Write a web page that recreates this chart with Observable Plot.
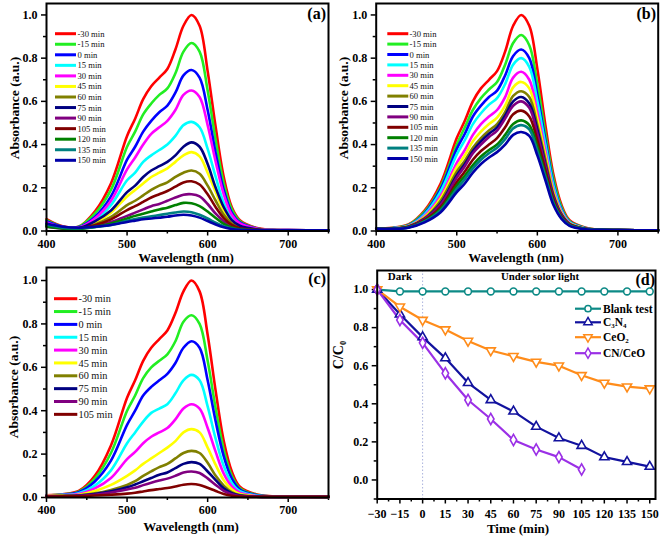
<!DOCTYPE html>
<html>
<head>
<meta charset="utf-8">
<script src="https://cdn.jsdelivr.net/npm/d3@7"></script>
<script src="https://cdn.jsdelivr.net/npm/@observablehq/plot@0.6"></script>
<style>
  html, body { margin: 0; padding: 0; background: white; }
  #wrap { position: relative; width: 661px; height: 540px; overflow: hidden; background: white; }
  #wrap svg { position: absolute; }
</style>
</head>
<body>
<div id="wrap"></div>
<script>
// ---------- DATA ----------
const wl = [400,420,440,460,480,500,510,520,530,540,550,560,570,580,590,600,610,620,630,640,660,680,700,750];

const timesA = ["-30 min","-15 min","0 min","15 min","30 min","45 min","60 min","75 min","90 min","105 min","120 min","135 min","150 min"];
const timesC = ["-30 min","-15 min","0 min","15 min","30 min","45 min","60 min","75 min","90 min","105 min"];
const specColors = ["#ff0000","#22ee22","#0000ff","#00ffff","#ff00ff","#ffff00","#808000","#000080","#800080","#800000","#008000","#008080","#0000a8"];

// Panel (a)
const specA = [
  [.055,.022,.02,.09,.22,.44,.52,.61,.67,.71,.75,.84,.95,1.0,.95,.74,.48,.25,.11,.05,.015,.006,.004,.003],
  [.05,.02,.02,.08,.19,.39,.46,.54,.59,.63,.66,.73,.83,.87,.83,.65,.42,.22,.10,.045,.013,.005,.004,.003],
  [.045,.02,.018,.065,.16,.33,.39,.46,.51,.55,.58,.64,.72,.745,.71,.56,.36,.19,.085,.04,.012,.005,.004,.003],
  [.035,.016,.015,.05,.12,.235,.27,.32,.35,.375,.40,.44,.49,.505,.48,.38,.25,.13,.06,.028,.009,.004,.003,.003],
  [.04,.018,.016,.058,.14,.285,.34,.40,.45,.48,.51,.56,.63,.65,.62,.49,.32,.17,.075,.035,.011,.005,.004,.003],
  [.03,.015,.013,.038,.085,.16,.19,.22,.25,.27,.29,.32,.35,.365,.345,.27,.18,.095,.045,.02,.007,.004,.003,.003],
  [.025,.014,.012,.03,.065,.12,.14,.165,.19,.21,.225,.25,.27,.28,.265,.21,.14,.075,.035,.016,.006,.003,.003,.003],
  [.03,.015,.014,.045,.095,.18,.21,.25,.28,.30,.32,.35,.39,.41,.39,.31,.20,.11,.05,.024,.008,.004,.003,.003],
  [.02,.012,.011,.022,.042,.07,.085,.10,.115,.125,.14,.155,.168,.17,.16,.125,.08,.045,.02,.01,.004,.003,.003,.003],
  [.025,.013,.012,.027,.054,.097,.115,.135,.155,.17,.185,.205,.225,.23,.215,.17,.11,.06,.028,.013,.005,.003,.003,.003],
  [.02,.012,.01,.019,.035,.058,.07,.08,.09,.10,.108,.12,.13,.128,.115,.09,.06,.033,.016,.008,.004,.003,.003,.003],
  [.03,.015,.012,.018,.028,.047,.055,.062,.068,.074,.08,.086,.09,.087,.075,.058,.038,.022,.011,.006,.003,.003,.003,.003],
  [.035,.02,.015,.02,.028,.042,.048,.054,.058,.062,.066,.072,.075,.072,.062,.046,.03,.017,.009,.005,.003,.003,.003,.003]
];

// Panel (b)
const specB = [
  [.01,.015,.03,.095,.22,.43,.51,.60,.66,.70,.74,.83,.95,1.0,.95,.75,.49,.26,.12,.05,.015,.006,.004,.003],
  [.01,.014,.028,.088,.205,.40,.48,.56,.615,.655,.69,.77,.87,.907,.86,.68,.45,.24,.11,.045,.014,.005,.004,.003],
  [.01,.013,.026,.082,.195,.38,.45,.53,.58,.62,.65,.72,.81,.84,.80,.63,.42,.22,.10,.042,.013,.005,.004,.003],
  [.01,.013,.025,.077,.183,.355,.42,.495,.545,.585,.615,.68,.77,.80,.76,.60,.40,.21,.095,.04,.012,.005,.004,.003],
  [.01,.012,.023,.07,.163,.315,.375,.445,.495,.53,.56,.62,.71,.737,.70,.55,.37,.19,.088,.037,.011,.005,.004,.003],
  [.01,.012,.022,.065,.152,.295,.35,.415,.46,.495,.525,.58,.665,.69,.66,.52,.35,.18,.083,.035,.011,.005,.004,.003],
  [.01,.012,.021,.06,.14,.275,.325,.385,.43,.465,.495,.55,.625,.647,.62,.49,.33,.17,.078,.033,.010,.005,.004,.003],
  [.01,.011,.02,.056,.128,.258,.31,.37,.415,.45,.48,.535,.60,.62,.59,.47,.31,.16,.075,.032,.010,.005,.004,.003],
  [.01,.011,.019,.054,.122,.248,.30,.36,.40,.435,.465,.52,.58,.60,.57,.45,.30,.155,.072,.031,.010,.005,.004,.003],
  [.01,.011,.018,.05,.11,.226,.275,.33,.37,.40,.43,.48,.54,.557,.53,.42,.28,.145,.067,.029,.009,.005,.004,.003],
  [.01,.01,.017,.046,.102,.21,.255,.305,.345,.375,.40,.445,.495,.512,.49,.39,.26,.135,.062,.027,.009,.005,.004,.003],
  [.01,.01,.016,.044,.095,.195,.24,.29,.33,.36,.385,.425,.475,.49,.47,.37,.25,.13,.06,.026,.009,.005,.004,.003],
  [.01,.01,.015,.04,.087,.18,.22,.27,.31,.34,.365,.40,.445,.458,.44,.35,.235,.12,.056,.024,.008,.005,.004,.003]
];

// Panel (c)
const specC = [
  [.01,.015,.03,.10,.24,.46,.54,.63,.69,.73,.77,.85,.95,1.0,.95,.75,.49,.26,.12,.05,.015,.006,.004,.003],
  [.01,.014,.027,.087,.205,.40,.47,.55,.60,.63,.66,.72,.81,.84,.80,.63,.41,.22,.10,.043,.013,.005,.004,.003],
  [.01,.013,.024,.074,.17,.335,.40,.47,.51,.54,.57,.62,.69,.72,.69,.54,.35,.19,.087,.037,.011,.005,.004,.003],
  [.01,.012,.02,.055,.125,.25,.30,.35,.39,.41,.43,.48,.54,.565,.54,.42,.27,.145,.067,.029,.009,.005,.004,.003],
  [.01,.011,.016,.042,.09,.177,.21,.25,.28,.30,.32,.36,.41,.43,.41,.32,.21,.11,.051,.022,.007,.004,.003,.003],
  [.008,.01,.013,.03,.058,.10,.125,.155,.18,.205,.23,.26,.30,.315,.30,.23,.15,.08,.037,.016,.006,.004,.003,.003],
  [.006,.008,.01,.019,.035,.058,.075,.10,.12,.14,.155,.18,.205,.215,.205,.16,.10,.055,.025,.011,.005,.003,.003,.003],
  [.005,.007,.009,.016,.029,.047,.06,.075,.09,.105,.115,.135,.155,.163,.155,.12,.08,.042,.02,.009,.004,.003,.003,.003],
  [.005,.006,.008,.013,.023,.037,.045,.057,.068,.078,.087,.10,.115,.12,.113,.088,.058,.031,.015,.007,.004,.003,.003,.003],
  [.004,.005,.006,.009,.013,.018,.022,.028,.034,.039,.044,.051,.059,.062,.058,.045,.03,.016,.008,.004,.003,.003,.003,.003]
];

// Panel (d)
const timeD = [-30,-15,0,15,30,45,60,75,90,105,120,135,150];
const seriesD = ["Blank test","C\u2083N\u2084","CeO\u2082","CN/CeO"];
const colorsD = ["#0d8a86","#12129e","#ff8c1a","#9b30e6"];
const blankD = [1.0,0.99,0.99,0.99,0.99,0.99,0.99,0.99,0.99,0.99,0.99,0.99,0.99];
const c3n4D  = [1.0,0.87,0.75,0.64,0.51,0.42,0.36,0.28,0.22,0.18,0.12,0.095,0.07];
const ceo2D  = [1.0,0.91,0.84,0.79,0.73,0.68,0.65,0.62,0.60,0.55,0.51,0.49,0.48];
const cnceoD = [1.0,0.84,0.72,0.56,0.42,0.32,0.21,0.16,0.12,0.055];

// ---------- HELPERS ----------
const FONT = "'Liberation Serif', 'Times New Roman', serif";
const wrap = document.getElementById("wrap");

function place(svg, left, top) {
  svg.style.left = left + "px";
  svg.style.top = top + "px";
  wrap.appendChild(svg);
  return d3.select(svg);
}

function addText(sel, x, y, txt, opts = {}) {
  const t = sel.append("text")
    .attr("x", x).attr("y", y)
    .attr("text-anchor", opts.anchor || "middle")
    .attr("font-family", FONT)
    .attr("font-size", opts.size || 13)
    .attr("font-weight", opts.weight || "bold")
    .attr("fill", "black")
    .text(txt);
  if (opts.rotate) t.attr("transform", `rotate(${opts.rotate},${x},${y})`);
  return t;
}

function specLegend(sel, names, colors, o) {
  const g = sel.append("g");
  names.forEach((n, i) => {
    const y = o.y0 + i * o.dy;
    g.append("line").attr("x1", o.x0).attr("x2", o.x1).attr("y1", y).attr("y2", y)
      .attr("stroke", colors[i]).attr("stroke-width", 3);
    g.append("text").attr("x", o.tx).attr("y", y).attr("dy", "0.35em")
      .attr("text-anchor", "start")
      .attr("font-family", FONT).attr("font-size", o.fs).attr("font-weight", "normal")
      .attr("fill", "#111").text(n);
  });
}

function specPlot(spec, names, o) {
  const data = spec.flatMap((vals, i) => vals.map((v, j) => ({w: wl[j], a: v, t: names[i]})));
  return Plot.plot({
    width: o.width, height: o.height,
    marginLeft: o.ml, marginRight: o.mr, marginTop: o.mt, marginBottom: o.mb,
    x: {domain: [400, 750]},
    y: {domain: [0, o.ymax]},
    color: {domain: names, range: specColors.slice(0, names.length)},
    style: {fontFamily: FONT, fontSize: "12px", fontWeight: "bold", background: "white", color: "black", overflow: "visible"},
    marks: [
      Plot.axisX({ticks: [400, 500, 600, 700], tickSize: 5, tickPadding: 3, strokeWidth: 1.5, label: null}),
      Plot.axisX({ticks: [450, 550, 650, 750], tickSize: 3, text: null, strokeWidth: 1.5, label: null}),
      Plot.axisY({ticks: [0, .2, .4, .6, .8, 1], tickFormat: ".1f", tickSize: 5, tickPadding: 4, strokeWidth: 1.5, label: null}),
      Plot.axisY({ticks: [.1, .3, .5, .7, .9], tickSize: 3, text: null, strokeWidth: 1.5, label: null}),
      Plot.line(data, {x: "w", y: "a", z: "t", stroke: "t", strokeWidth: 2.6, curve: "catmull-rom"}),
      Plot.frame({stroke: "black", strokeWidth: 2})
    ]
  });
}

// ---------- PANEL (a) ----------
{
  const svg = specPlot(specA, timesA, {width: 330, height: 265, ml: 46, mr: 2, mt: 3, mb: 34.5, ymax: 1.053});
  const s = place(svg, 0, 0);
  specLegend(s, timesA, specColors, {x0: 55, x1: 76, tx: 77.5, y0: 33.7, dy: 10.55, fs: 8.6});
  addText(s, 186, 262, "Wavelength (nm)", {size: 13});
  addText(s, 18.5, 108, "Absorbance (a.u.)", {size: 13.5, rotate: -90});
  addText(s, 326, 19, "(a)", {size: 16, anchor: "end"});
}

// ---------- PANEL (b) ----------
{
  const svg = specPlot(specB, timesA, {width: 331, height: 265, ml: 45.7, mr: 3.3, mt: 3, mb: 34.5, ymax: 1.053});
  const s = place(svg, 330, 0);
  specLegend(s, timesA, specColors, {x0: 57.3, x1: 78.3, tx: 79.5, y0: 33.7, dy: 10.4, fs: 8.6});
  addText(s, 186, 262, "Wavelength (nm)", {size: 13});
  addText(s, 17.5, 108, "Absorbance (a.u.)", {size: 13.5, rotate: -90});
  addText(s, 326, 19, "(b)", {size: 16, anchor: "end"});
}

// ---------- PANEL (c) ----------
{
  const svg = specPlot(specC, timesC, {width: 330, height: 275, ml: 46, mr: 2, mt: 2, mb: 43, ymax: 1.06});
  const s = place(svg, 0, 265);
  specLegend(s, timesC, specColors, {x0: 54, x1: 77.3, tx: 78.5, y0: 33.7, dy: 12.85, fs: 10.3});
  addText(s, 191, 266, "Wavelength (nm)", {size: 13});
  addText(s, 18, 122, "Absorbance (a.u.)", {size: 13.5, rotate: -90});
  addText(s, 326, 19, "(c)", {size: 16, anchor: "end"});
}

// ---------- PANEL (d) ----------
{
  const all = [
    ...blankD.map((v, i) => ({x: timeD[i], y: v, s: seriesD[0]})),
    ...c3n4D.map((v, i) => ({x: timeD[i], y: v, s: seriesD[1]})),
    ...ceo2D.map((v, i) => ({x: timeD[i], y: v, s: seriesD[2]})),
    ...cnceoD.map((v, i) => ({x: timeD[i], y: v, s: seriesD[3]}))
  ];
  const sym = {"Blank test": ["circle", 0], [seriesD[1]]: ["triangle", 0], [seriesD[2]]: ["triangle", 180], "CN/CeO": ["diamond", 0]};
  const dotMarks = seriesD.map((name, k) => Plot.dot(all.filter(d => d.s === name), {
    x: "x", y: "y", symbol: sym[name][0], rotate: sym[name][1], r: 3.4,
    stroke: colorsD[k], fill: "white", strokeWidth: 1.6
  }));
  const svg = Plot.plot({
    width: 331, height: 275,
    marginLeft: 46.7, marginRight: 6, marginTop: 5, marginBottom: 41.5,
    x: {domain: [-30, 153.8]},
    y: {domain: [-0.1, 1.1]},
    color: {domain: seriesD, range: colorsD},
    style: {fontFamily: FONT, fontSize: "12px", fontWeight: "bold", background: "white", color: "black", overflow: "visible"},
    marks: [
      Plot.ruleX([0], {stroke: "#aab2dd", strokeWidth: 1, strokeDasharray: "1.5,2"}),
      Plot.axisX({ticks: timeD, tickSize: 5, tickPadding: 5, strokeWidth: 1.5, label: null}),
      Plot.axisX({ticks: timeD.slice(0, -1).map(t => t + 7.5), tickSize: 3, text: null, strokeWidth: 1.5, label: null}),
      Plot.axisY({ticks: [0, .2, .4, .6, .8, 1], tickFormat: ".1f", tickSize: 5, tickPadding: 4, strokeWidth: 1.5, label: null}),
      Plot.axisY({ticks: [-.1, .1, .3, .5, .7, .9], tickSize: 3, text: null, strokeWidth: 1.5, label: null}),
      Plot.line(all, {x: "x", y: "y", z: "s", stroke: "s", strokeWidth: 2.2}),
      ...dotMarks,
      Plot.frame({stroke: "black", strokeWidth: 2})
    ]
  });
  const s = place(svg, 330, 265);
  addText(s, 70, 15, "Dark", {size: 11});
  addText(s, 210, 15, "Under solor light", {size: 10.8});
  addText(s, 325, 20, "(d)", {size: 16, anchor: "end"});
  addText(s, 188, 268, "Time (min)", {size: 13});
  addText(s, 13, 90, "C/C\u2080", {size: 14, rotate: -90});
  // legend
  const ys = [43.7, 57.3, 72.2, 88.2];
  const symT = {"Blank test": [d3.symbolCircle, 0], [seriesD[1]]: [d3.symbolTriangle, 0], [seriesD[2]]: [d3.symbolTriangle, 180], "CN/CeO": [d3.symbolDiamond, 0]};
  const g = s.append("g");
  seriesD.forEach((name, k) => {
    const y = ys[k];
    g.append("line").attr("x1", 245).attr("x2", 271).attr("y1", y).attr("y2", y)
      .attr("stroke", colorsD[k]).attr("stroke-width", 2.2);
    g.append("path").attr("d", d3.symbol(symT[name][0], 30)())
      .attr("transform", `translate(258,${y}) rotate(${symT[name][1]})`)
      .attr("fill", "white").attr("stroke", colorsD[k]).attr("stroke-width", 1.5);
    g.append("text").attr("x", 273).attr("y", y).attr("dy", "0.35em")
      .attr("text-anchor", "start")
      .attr("font-family", FONT).attr("font-size", 11.5).attr("font-weight", "bold")
      .attr("fill", "black").text(name);
  });
}
</script>
</body>
</html>
